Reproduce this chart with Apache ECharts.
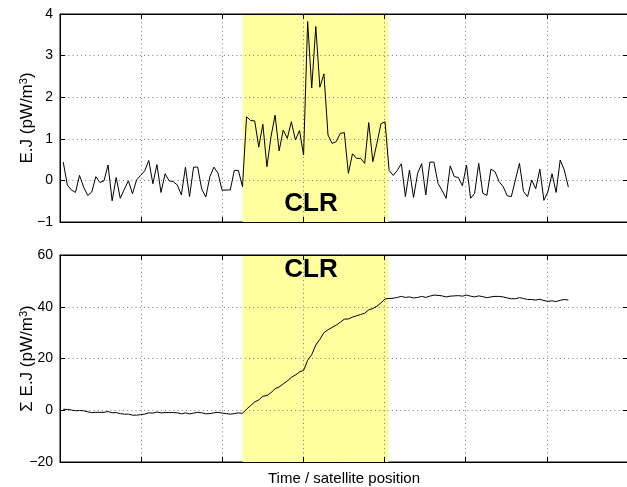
<!DOCTYPE html>
<html>
<head>
<meta charset="utf-8">
<script src="https://cdn.jsdelivr.net/npm/echarts@6/dist/echarts.min.js"></script>
<style>
  body { margin: 0; background: #ffffff; }
  #chart { width: 627px; height: 487px; }
</style>
</head>
<body>
<div id="chart"></div>
<script>
// E.J per sample (top panel)
var ejValues = [
  0.44, -0.11, -0.23, -0.29, 0.12, -0.16, -0.36, -0.28, 0.09, -0.05,
  -0.01, 0.37, -0.49, 0.07, -0.43, -0.21, -0.01, -0.32, 0.01, 0.12,
  0.23, 0.48, -0.08, 0.38, -0.29, 0.16, -0.01, -0.03, -0.11, -0.35,
  0.32, -0.39, 0.32, 0.32, -0.21, -0.40, 0.09, 0.32, 0.17, -0.24,
  -0.23, -0.23, 0.24, 0.24, -0.15, 1.53, 1.44, 1.43, 0.80, 1.35,
  0.33, 1.05, 1.57, 0.71, 1.21, 1.01, 1.41, 0.97, 1.20, 0.61,
  3.82, 2.22, 3.70, 2.24, 2.56, 1.09, 0.89, 0.93, 1.13, 1.15,
  0.17, 0.64, 0.53, 0.53, 0.41, 1.39, 0.45, 0.89, 1.36, 1.41,
  0.24, 0.12, 0.24, 0.40, -0.39, 0.25, -0.41, 0.17, 0.40, -0.35,
  0.44, 0.44, -0.07, -0.24, -0.43, 0.35, 0.09, 0.07, -0.13, 0.37,
  -0.43, -0.31, 0.41, -0.31, -0.36, 0.27, 0.21, -0.03, -0.15, -0.37,
  -0.39, 0.01, 0.41, -0.27, -0.39, 0.01, -0.20, 0.27, -0.48, -0.27,
  0.16, -0.29, 0.49, 0.25, -0.16
]
// running sum of E.J (bottom panel)
var sumValues = [
  0.4, 0.3, 0.1, -0.2, -0.1, -0.2, -0.6, -0.9, -0.8, -0.8,
  -0.8, -0.5, -1.0, -0.9, -1.3, -1.5, -1.5, -1.9, -1.9, -1.7,
  -1.5, -1.0, -1.1, -0.7, -1.0, -0.9, -0.9, -0.9, -1.0, -1.4,
  -1.0, -1.4, -1.1, -0.8, -1.0, -1.4, -1.3, -1.0, -0.8, -1.1,
  -1.3, -1.5, -1.3, -1.0, -1.2, 0.4, 1.8, 3.2, 4.0, 5.4,
  5.7, 6.8, 8.3, 9.0, 10.2, 11.3, 12.7, 13.6, 14.8, 15.4,
  19.3, 21.5, 25.2, 27.4, 30.0, 31.1, 32.0, 32.9, 34.0, 35.2,
  35.3, 36.0, 36.5, 37.0, 37.5, 38.8, 39.3, 40.2, 41.5, 43.0,
  43.2, 43.3, 43.6, 44.0, 43.6, 43.8, 43.4, 43.6, 44.0, 43.6,
  44.1, 44.5, 44.4, 44.2, 43.8, 44.1, 44.2, 44.3, 44.1, 44.5,
  44.1, 43.8, 44.2, 43.9, 43.5, 43.8, 44.0, 44.0, 43.8, 43.4,
  43.1, 43.1, 43.5, 43.2, 42.8, 42.8, 42.6, 42.9, 42.4, 42.1,
  42.3, 42.0, 42.5, 42.8, 42.6
]
var sampleStart = 0.04
var sampleStep = 0.0502
var clrSpan = [2.25, 4.05]
var xRange = [0, 7]
var topRange = [-1, 4, 1]
var bottomRange = [-20, 60, 20]

function pairs (values) {
  return values.map(function (v, i) { return [sampleStart + i * sampleStep, v] })
}
function minus (v) { return String(v).replace('-', '\u2212') }

var font = '"Liberation Sans", Arial, sans-serif'
var dots = { color: '#7a7a7a', width: 1, type: [1, 3.2] }
var tickIn = { inside: true, length: 5, lineStyle: { color: '#000' } }
var supRich = { sup: { fontSize: 11, fontFamily: font, color: '#000', verticalAlign: 'top', padding: [0, 0, 7, 0] } }

function xAx (grid, pos, grid2) {
  return {
    type: 'value', gridIndex: grid, position: pos, min: xRange[0], max: xRange[1], interval: 1,
    axisLine: { show: true, onZero: false, lineStyle: { color: '#000' } },
    axisTick: tickIn, axisLabel: { show: false },
    splitLine: { show: pos === 'bottom', lineStyle: dots },
    name: grid2 ? 'Time / satellite position' : '', nameLocation: 'middle', nameGap: 9, nameMoveOverlap: false,
    nameTextStyle: { color: '#000', fontSize: 15, fontFamily: font, verticalAlign: 'top' },
    z: 3
  }
}
function yAx (grid, pos, r, name) {
  return {
    type: 'value', gridIndex: grid, position: pos, min: r[0], max: r[1], interval: r[2],
    axisLine: { show: true, onZero: false, lineStyle: { color: '#000' } },
    axisTick: tickIn,
    axisLabel: { show: pos === 'left', color: '#000', fontSize: 14, fontFamily: font, margin: 7, formatter: minus },
    splitLine: { show: pos === 'left', lineStyle: dots },
    name: name || '', nameLocation: 'middle', nameGap: 24, nameMoveOverlap: false,
    nameTextStyle: { color: '#000', fontSize: 17, fontFamily: font, rich: supRich },
    z: 3
  }
}
function shade (x, y) {
  return {
    type: 'line', xAxisIndex: x, yAxisIndex: y, data: [], z: 1, silent: true,
    markArea: { silent: true, itemStyle: { color: '#ffffa0' }, data: [[{ xAxis: clrSpan[0] }, { xAxis: clrSpan[1] }]] }
  }
}
function trace (x, y, values) {
  return {
    type: 'line', xAxisIndex: x, yAxisIndex: y, data: pairs(values), z: 4,
    showSymbol: false, animation: false,
    lineStyle: { color: '#000', width: 1 }
  }
}

var chart = echarts.init(document.getElementById('chart'))
chart.setOption({
  backgroundColor: '#ffffff',
  animation: false,
  grid: [
    { left: 60, top: 14, width: 568, height: 208, show: true, borderColor: '#000', borderWidth: 1, outerBoundsMode: 'none', containLabel: false },
    { left: 60, top: 255, width: 568, height: 207, show: true, borderColor: '#000', borderWidth: 1, outerBoundsMode: 'none', containLabel: false }
  ],
  xAxis: [xAx(0, 'bottom'), xAx(0, 'top'), xAx(1, 'bottom', true), xAx(1, 'top')],
  yAxis: [
    yAx(0, 'left', topRange, 'E.J (pW/m{sup|3})'), yAx(0, 'right', topRange),
    yAx(1, 'left', bottomRange, '\u03a3 E.J (pW/m{sup|3})'), yAx(1, 'right', bottomRange)
  ],
  series: [
    shade(0, 0), shade(2, 2),
    trace(0, 0, ejValues),
    trace(2, 2, sumValues)
  ],
  graphic: [
    { type: 'text', x: 311, y: 204, z: 10, style: { text: 'CLR', font: 'bold 26px ' + font, fill: '#000', align: 'center', verticalAlign: 'middle' } },
    { type: 'text', x: 311, y: 270, z: 10, style: { text: 'CLR', font: 'bold 26px ' + font, fill: '#000', align: 'center', verticalAlign: 'middle' } }
  ]
})
</script>
</body>
</html>
